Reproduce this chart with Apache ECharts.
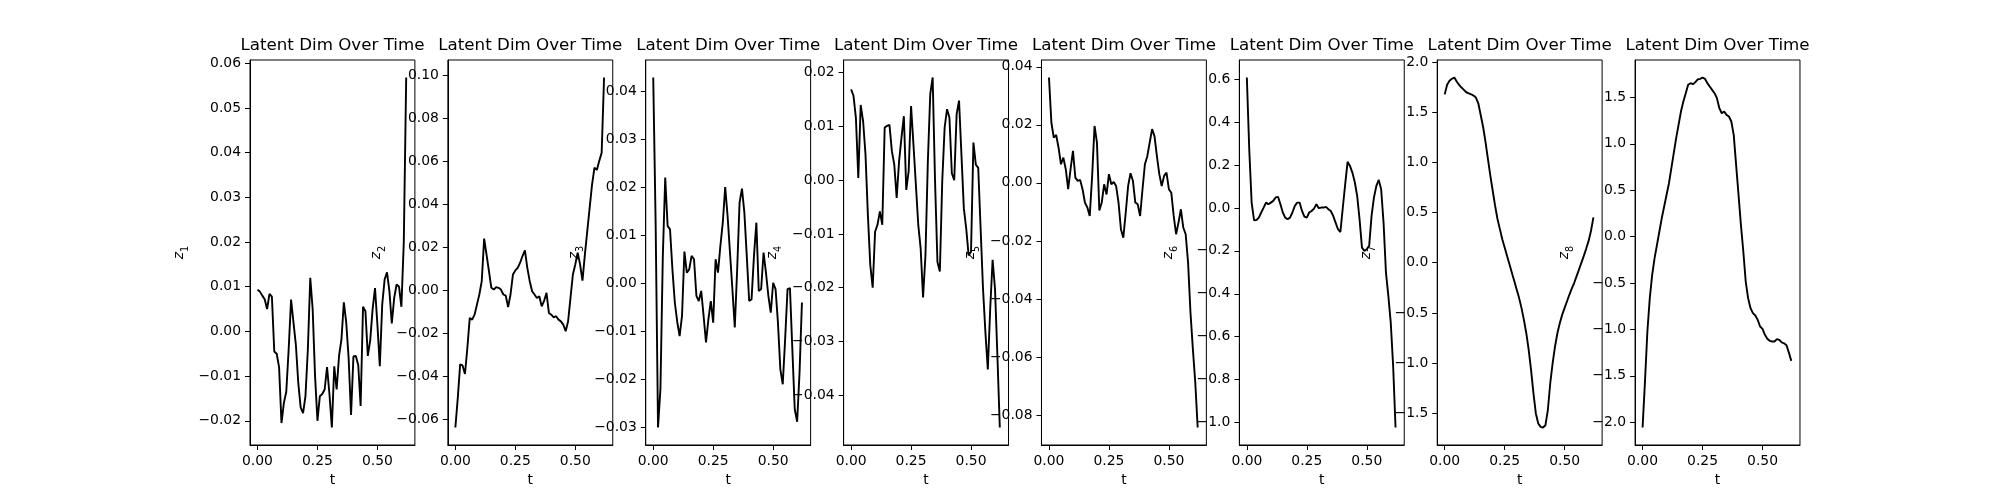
<!DOCTYPE html>
<html>
<head>
<meta charset="utf-8">
<script src="https://cdn.jsdelivr.net/npm/echarts@6/dist/echarts.min.js"></script>
<style>
  html, body { margin: 0; background: #fff; }
  #chart { width: 2000px; height: 500px; }
</style>
</head>
<body>
<div id="chart"></div>
<script>
// time axis
const t = [
  0.00, 0.01, 0.02, 0.03, 0.04, 0.05, 0.06, 0.07, 0.08, 0.09,
  0.10, 0.11, 0.12, 0.13, 0.14, 0.15, 0.16, 0.17, 0.18, 0.19,
  0.20, 0.21, 0.22, 0.23, 0.24, 0.25, 0.26, 0.27, 0.28, 0.29,
  0.30, 0.31, 0.32, 0.33, 0.34, 0.35, 0.36, 0.37, 0.38, 0.39,
  0.40, 0.41, 0.42, 0.43, 0.44, 0.45, 0.46, 0.47, 0.48, 0.49,
  0.50, 0.51, 0.52, 0.53, 0.54, 0.55, 0.56, 0.57, 0.58, 0.59,
  0.60, 0.61, 0.62
]

// latent dims
const z1 = [
  0.0093, 0.0089, 0.0080, 0.0072, 0.0050, 0.0084, 0.0078, -0.0045, -0.0050, -0.0080,
  -0.0205, -0.0160, -0.0135, -0.0040, 0.0071, 0.0020, -0.0030, -0.0115, -0.0170, -0.0183,
  -0.0145, -0.0040, 0.0120, 0.0050, -0.0100, -0.0200, -0.0145, -0.0140, -0.0130, -0.0080,
  -0.0140, -0.0215, -0.0078, -0.0130, -0.0055, -0.0018, 0.0065, 0.0020, -0.0060, -0.0187,
  -0.0056, -0.0055, -0.0075, -0.0167, 0.0055, 0.0045, -0.0055, -0.0020, 0.0050, 0.0097,
  0.0015, -0.0078, 0.0060, 0.0116, 0.0132, 0.0090, 0.0018, 0.0075, 0.0105, 0.0100,
  0.0055, 0.0200, 0.0568
]
const z2 = [
  -0.0639, -0.0502, -0.0345, -0.0350, -0.0390, -0.0269, -0.0129, -0.0137, -0.0114, -0.0067,
  -0.0020, 0.0042, 0.0240, 0.0166, 0.0089, 0.0011, 0.0003, 0.0014, 0.0011, 0.0003,
  -0.0020, -0.0025, -0.0078, -0.0020, 0.0073, 0.0092, 0.0104, 0.0128, 0.0159, 0.0185,
  0.0104, 0.0042, -0.0005, -0.0020, -0.0036, -0.0028, -0.0075, -0.0050, -0.0012, -0.0106,
  -0.0114, -0.0126, -0.0121, -0.0137, -0.0145, -0.0160, -0.0191, -0.0145, -0.0036, 0.0073,
  0.0120, 0.0175, 0.0120, 0.0045, 0.0166, 0.0275, 0.0384, 0.0493, 0.0570, 0.0560,
  0.0602, 0.0640, 0.0990
]
const z3 = [
  0.0428, 0.0126, -0.0300, -0.0220, 0.0057, 0.0220, 0.0119, 0.0112, 0.0029, -0.0040,
  -0.0080, -0.0110, -0.0068, 0.0066, 0.0022, 0.0029, 0.0057, 0.0050, -0.0026, -0.0037,
  -0.0016, -0.0068, -0.0123, -0.0075, -0.0037, -0.0082, 0.0050, 0.0022, 0.0078, 0.0126,
  0.0200, 0.0140, 0.0064, -0.0012, -0.0092, 0.0029, 0.0168, 0.0197, 0.0147, 0.0057,
  -0.0037, -0.0033, 0.0057, 0.0126, -0.0016, -0.0012, 0.0064, 0.0022, -0.0026, -0.0061,
  0.0001, -0.0012, -0.0082, -0.0179, -0.0210, -0.0116, -0.0012, -0.0010, -0.0137, -0.0262,
  -0.0288, -0.0186, -0.0040
]
const z4 = [
  0.0169, 0.0157, 0.0116, 0.0004, 0.0140, 0.0110, 0.0048, -0.0065, -0.0158, -0.0200,
  -0.0096, -0.0083, -0.0058, -0.0083, 0.0098, 0.0101, 0.0103, 0.0054, 0.0029, -0.0033,
  0.0035, 0.0079, 0.0119, -0.0018, 0.0017, 0.0138, 0.0066, -0.0008, -0.0083, -0.0127,
  -0.0218, -0.0140, 0.0035, 0.0160, 0.0191, -0.0002, -0.0152, -0.0170, -0.0002, 0.0098,
  0.0132, 0.0116, 0.0013, 0.0000, 0.0123, 0.0148, 0.0048, -0.0052, -0.0090, -0.0140,
  -0.0133, 0.0070, 0.0029, 0.0023, -0.0090, -0.0202, -0.0283, -0.0352, -0.0239, -0.0148,
  -0.0202, -0.0327, -0.0460
]
const z5 = [
  0.0363, 0.0208, 0.0156, 0.0165, 0.0121, 0.0064, 0.0087, 0.0047, -0.0022, 0.0047,
  0.0110, 0.0018, 0.0007, 0.0010, -0.0022, -0.0068, -0.0085, -0.0114, 0.0024, 0.0196,
  0.0139, -0.0095, -0.0068, -0.0005, -0.0040, 0.0030, -0.0005, 0.0003, -0.0011, -0.0068,
  -0.0160, -0.0189, -0.0103, -0.0011, 0.0033, 0.0007, -0.0068, -0.0074, -0.0114, -0.0022,
  0.0064, 0.0092, 0.0139, 0.0185, 0.0161, 0.0092, 0.0030, -0.0011, 0.0024, 0.0035,
  -0.0022, -0.0034, -0.0114, -0.0177, -0.0137, -0.0091, -0.0154, -0.0177, -0.0275, -0.0447,
  -0.0573, -0.0688, -0.0843
]
const z6 = [
  0.608, 0.274, 0.025, -0.057, -0.056, -0.045, -0.021, 0.002, 0.025, 0.017,
  0.025, 0.033, 0.049, 0.052, 0.017, -0.021, -0.045, -0.053, -0.045, -0.021,
  0.010, 0.025, 0.025, -0.014, -0.040, -0.045, -0.021, -0.014, -0.003, 0.017,
  -0.001, 0.002, 0.002, 0.005, -0.006, -0.014, -0.037, -0.068, -0.099, -0.112,
  0.000, 0.110, 0.215, 0.196, 0.165, 0.121, 0.056, -0.053, -0.185, -0.200,
  -0.192, -0.177, -0.037, 0.049, 0.103, 0.131, 0.087, -0.068, -0.301, -0.410,
  -0.534, -0.736, -1.023
]
const z7 = [
  1.678, 1.773, 1.813, 1.833, 1.846, 1.806, 1.773, 1.746, 1.723, 1.699,
  1.689, 1.679, 1.666, 1.646, 1.589, 1.472, 1.355, 1.204, 1.037, 0.870,
  0.720, 0.569, 0.436, 0.335, 0.235, 0.151, 0.068, -0.016, -0.099, -0.183,
  -0.266, -0.350, -0.450, -0.567, -0.700, -0.867, -1.068, -1.302, -1.502, -1.602,
  -1.636, -1.642, -1.619, -1.468, -1.201, -1.001, -0.834, -0.700, -0.600, -0.517,
  -0.450, -0.384, -0.317, -0.256, -0.200, -0.133, -0.066, 0.001, 0.068, 0.141,
  0.218, 0.319, 0.452
]
const z8 = [
  -2.057, -1.562, -1.023, -0.663, -0.412, -0.232, -0.088, 0.055, 0.199, 0.325,
  0.451, 0.576, 0.738, 0.900, 1.062, 1.205, 1.349, 1.457, 1.546, 1.636,
  1.654, 1.643, 1.665, 1.694, 1.701, 1.715, 1.701, 1.654, 1.618, 1.582,
  1.546, 1.492, 1.384, 1.330, 1.348, 1.312, 1.295, 1.241, 1.097, 0.774,
  0.451, 0.127, -0.160, -0.484, -0.663, -0.771, -0.825, -0.850, -0.897, -0.969,
  -0.994, -1.058, -1.101, -1.123, -1.130, -1.130, -1.105, -1.112, -1.140, -1.150,
  -1.170, -1.250, -1.339
]

// tick labels
const tTicks = ['0.00', '0.25', '0.50']
const ticks1 = ['−0.02', '−0.01', '0.00', '0.01', '0.02', '0.03', '0.04', '0.05', '0.06']
const ticks2 = ['−0.06', '−0.04', '−0.02', '0.00', '0.02', '0.04', '0.06', '0.08', '0.10']
const ticks3 = ['−0.03', '−0.02', '−0.01', '0.00', '0.01', '0.02', '0.03', '0.04']
const ticks4 = ['−0.04', '−0.03', '−0.02', '−0.01', '0.00', '0.01', '0.02']
const ticks5 = ['−0.08', '−0.06', '−0.04', '−0.02', '0.00', '0.02', '0.04']
const ticks6 = ['−1.0', '−0.8', '−0.6', '−0.4', '−0.2', '0.0', '0.2', '0.4', '0.6']
const ticks7 = ['−1.5', '−1.0', '−0.5', '0.0', '0.5', '1.0', '1.5', '2.0']
const ticks8 = ['−2.0', '−1.5', '−1.0', '−0.5', '0.0', '0.5', '1.0', '1.5']

const titleText = 'Latent Dim Over Time'
const xName = 't'

const dims = [z1, z2, z3, z4, z5, z6, z7, z8]
const yTicks = [ticks1, ticks2, ticks3, ticks4, ticks5, ticks6, ticks7, ticks8]

const toNum = s => parseFloat(s.replace('−', '-'))
const labelFor = (labels, v) => {
  const hit = labels.find(l => Math.abs(toNum(l) - v) < 1e-9)
  return hit === undefined ? '' : hit
}

// panel layout (matplotlib 1x8 subplots)
const figLeft = 250
const panelW = 164.89
const panelStep = 197.87
const panelTop = 60
const panelH = 385
const font = 'DejaVu Sans'
const fs = 13.9

const chart = echarts.init(document.getElementById('chart'))

const grids = [], xAxes = [], yAxes = [], series = [], titles = []
dims.forEach((z, i) => {
  const left = figLeft + i * panelStep
  grids.push({
    left: left, top: panelTop, width: panelW, height: panelH,
    show: true, borderColor: '#000', borderWidth: 1, backgroundColor: 'transparent'
  })
  titles.push({
    text: titleText,
    left: left + panelW / 2,
    top: 37,
    padding: 0,
    textAlign: 'center',
    textStyle: { fontFamily: font, fontSize: 16.7, fontWeight: 'normal', color: '#000' }
  })
  xAxes.push({
    gridIndex: i,
    type: 'value',
    position: 'bottom',
    min: -0.03125,
    max: 0.65625,
    name: xName,
    nameLocation: 'middle',
    nameGap: 27,
    nameTextStyle: { fontFamily: font, fontSize: fs, color: '#000' },
    axisLine: { show: true, onZero: false, lineStyle: { color: '#000', width: 1 } },
    splitLine: { show: false },
    axisTick: {
      show: true, inside: false, length: 5,
      customValues: tTicks.map(toNum),
      lineStyle: { color: '#000', width: 1 }
    },
    axisLabel: {
      margin: 9,
      customValues: tTicks.map(toNum),
      formatter: v => labelFor(tTicks, v),
      fontFamily: font, fontSize: fs, color: '#000'
    }
  })
  const lo = Math.min(...z), hi = Math.max(...z)
  const pad = 0.05 * (hi - lo)
  const ticks = yTicks[i]
  yAxes.push({
    gridIndex: i,
    type: 'value',
    position: 'left',
    min: lo - pad,
    max: hi + pad,
    name: '{v|z}{s|' + (i + 1) + '}',
    nameLocation: 'middle',
    nameRotate: 90,
    nameGap: 60,
    nameTextStyle: {
      color: '#000',
      rich: {
        v: { fontFamily: font, fontSize: fs, fontStyle: 'italic', color: '#000', lineHeight: 18, verticalAlign: 'top' },
        s: { fontFamily: font, fontSize: 9.7, color: '#000', lineHeight: 10, verticalAlign: 'bottom' }
      }
    },
    axisLine: { show: true, onZero: false, lineStyle: { color: '#000', width: 1 } },
    splitLine: { show: false },
    axisTick: {
      show: true, inside: false, length: 5,
      customValues: ticks.map(toNum),
      lineStyle: { color: '#000', width: 1 }
    },
    axisLabel: {
      margin: 9,
      customValues: ticks.map(toNum),
      formatter: v => labelFor(ticks, v),
      fontFamily: font, fontSize: fs, color: '#000'
    }
  })
  series.push({
    type: 'line',
    xAxisIndex: i,
    yAxisIndex: i,
    data: t.map((tv, k) => [tv, z[k]]),
    showSymbol: false,
    symbol: 'none',
    lineStyle: { color: '#000', width: 1.9 },
    animation: false
  })
})

chart.setOption({
  backgroundColor: '#fff',
  animation: false,
  title: titles,
  grid: grids,
  xAxis: xAxes,
  yAxis: yAxes,
  series: series
})
</script>
</body>
</html>
